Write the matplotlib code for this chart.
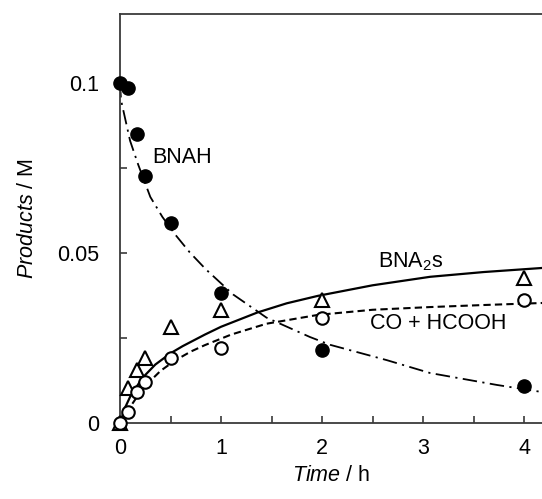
"""Products vs. time: BNAH decay, BNA2s and CO + HCOOH formation."""

import matplotlib
matplotlib.use("Agg")
import matplotlib.pyplot as plt
from matplotlib.ticker import MultipleLocator

plt.rcParams["font.family"] = ["Liberation Sans", "DejaVu Sans"]
plt.rcParams["mathtext.fontset"] = "custom"
plt.rcParams["mathtext.rm"] = "Liberation Sans"
plt.rcParams["mathtext.it"] = "Liberation Sans:italic"

# measured points (time in h, concentration in M)
t_obs = [0, 0.083, 0.167, 0.25, 0.5, 1, 2, 4]
bnah_obs = [0.1, 0.0985, 0.085, 0.0726, 0.0588, 0.0382, 0.0215, 0.0109]
bna2s_obs = [0, 0.0103, 0.0156, 0.019, 0.0283, 0.0332, 0.0362, 0.0426]
co_obs = [0, 0.0032, 0.0091, 0.012, 0.0191, 0.022, 0.0309, 0.0362]

# fitted curves
t_bnah_fit = [0, 0.01, 0.1, 0.18, 0.3, 0.42, 0.55, 0.69, 0.85, 1.12, 1.45,
              1.88, 2.08, 2.64, 3.07, 3.73, 4.18]
bnah_fit = [0.1, 0.095, 0.083, 0.076, 0.0665, 0.0606, 0.0553, 0.0502, 0.0452,
            0.0378, 0.031, 0.0253, 0.023, 0.0185, 0.0147, 0.0112, 0.0091]
t_bna2s_fit = [0, 0.05, 0.1, 0.22, 0.35, 0.5, 0.62, 0.84, 1.0, 1.36, 1.65,
               1.96, 2.5, 3.07, 3.6, 4.18]
bna2s_fit = [0, 0.0045, 0.0077, 0.0132, 0.0172, 0.0205, 0.0226, 0.026, 0.0283,
             0.0325, 0.0352, 0.0374, 0.0405, 0.043, 0.0444, 0.0456]
t_co_fit = [0, 0.08, 0.18, 0.28, 0.4, 0.54, 0.7, 0.84, 1.1, 1.45, 1.96, 2.5,
            3.07, 3.6, 4.18]
co_fit = [0, 0.0038, 0.0082, 0.0118, 0.0153, 0.0183, 0.021, 0.0229, 0.026,
          0.0292, 0.0318, 0.0333, 0.0341, 0.0347, 0.0353]

fig = plt.figure(figsize=(5.42, 4.99), dpi=100)
ax = fig.add_axes([120 / 542, 1 - 423 / 499, 1 - 120 / 542, 409 / 499])

ax.plot(t_bnah_fit, bnah_fit, color="black", lw=1.3, dashes=[8, 3, 1.2, 3])
ax.plot(t_bna2s_fit, bna2s_fit, color="black", lw=1.6)
ax.plot(t_co_fit, co_fit, color="black", lw=1.5, dashes=[3.5, 2])

ax.plot(t_obs, bnah_obs, "o", ms=9.5, color="black", zorder=4, clip_on=False)
ax.plot(t_obs, bna2s_obs, "^", ms=10, mfc="white", mec="black", mew=1.5,
        zorder=4, clip_on=False)
ax.plot(t_obs, co_obs, "o", ms=9, mfc="white", mec="black", mew=1.5,
        zorder=4, clip_on=False)

ax.text(0.32, 0.078, "BNAH", fontsize=15.5, va="center")
ax.text(2.55, 0.0474, "BNA$_2$s", fontsize=15.5, va="center")
ax.text(2.48, 0.0294, "CO + HCOOH", fontsize=15.5, va="center")

ax.set_xlim(0, 4.178)
ax.set_ylim(0, 0.1203)
ax.xaxis.set_major_locator(MultipleLocator(1))
ax.xaxis.set_minor_locator(MultipleLocator(0.5))
ax.set_yticks([0, 0.05, 0.1])
ax.set_yticklabels(["0", "0.05", "0.1"])
ax.yaxis.set_minor_locator(MultipleLocator(0.025))

for side in ["left", "top", "bottom"]:
    ax.spines[side].set_linewidth(1.3)
    ax.spines[side].set_color("#3a3a3a")
ax.spines["right"].set_visible(False)

ax.tick_params(which="both", direction="in", length=5, width=1.2,
               color="#3a3a3a", labelsize=15.5)
ax.tick_params(axis="y", which="both", pad=15, right=False)
ax.tick_params(axis="x", which="both", pad=11, top=False)

ax.set_xlabel(r"$\mathit{Time}$ / h", fontsize=15.5, labelpad=4)
ax.set_ylabel(r"$\mathit{Products}$ / M", fontsize=15.5, labelpad=14)

fig.savefig("out.png", dpi=100)
